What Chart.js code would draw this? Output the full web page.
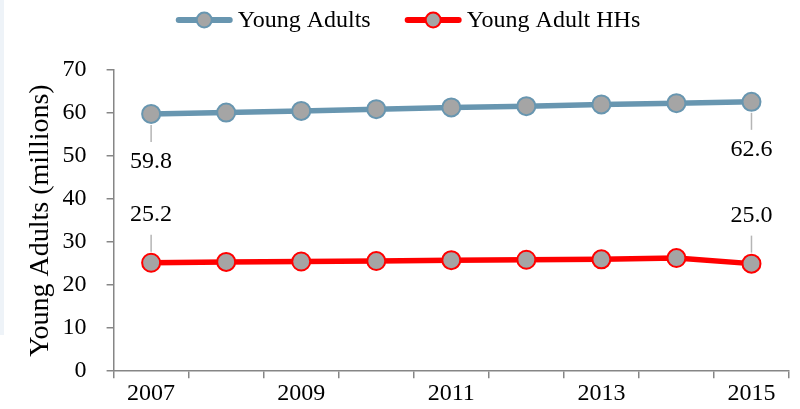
<!DOCTYPE html>
<html>
<head>
<meta charset="utf-8">
<script src="https://cdn.jsdelivr.net/npm/chart.js@4.4.1/dist/chart.umd.min.js"></script>
<style>
  html, body { margin: 0; padding: 0; background: #fff; }
  #wrap { position: relative; width: 800px; height: 409px; }
  #edge { position: absolute; left: 0; top: 0; width: 4px; height: 335px; background: #eef3f8; }
  canvas { position: absolute; left: 0; top: 0; }
</style>
</head>
<body>
<div id="wrap">
  <div id="edge"></div>
  <canvas id="chart" width="800" height="409"></canvas>
</div>
<script>
// Young adults and young-adult-headed households, millions
const years = ['2007', '2008', '2009', '2010', '2011', '2012', '2013', '2014', '2015'];
const youngAdults = [59.8, 60.1, 60.5, 60.9, 61.3, 61.6, 62.0, 62.3, 62.6];
const youngAdultHHs = [25.2, 25.4, 25.5, 25.6, 25.8, 25.9, 26.0, 26.3, 25.0];
const yTicks = [0, 10, 20, 30, 40, 50, 60, 70];

const FONT = '"Liberation Serif", "DejaVu Serif", serif';
const AXIS = '#868686';
const BLUE = '#6896b0';
const RED = '#ff0000';
const MARKER = '#a5a5a5';

// Values for the first and last point, with a short grey leader line
const endLabels = {
  id: 'endLabels',
  afterDatasetsDraw(chart) {
    const ctx = chart.ctx;
    chart.data.datasets.forEach((ds, di) => {
      const meta = chart.getDatasetMeta(di);
      const dir = ds.labelSide === 'below' ? 1 : -1;
      [0, ds.data.length - 1].forEach((i) => {
        const pt = meta.data[i];
        ctx.save();
        ctx.strokeStyle = '#b5b5b5';
        ctx.lineWidth = 1.5;
        ctx.beginPath();
        ctx.moveTo(pt.x, pt.y + dir * 11);
        ctx.lineTo(pt.x, pt.y + dir * 28);
        ctx.stroke();
        ctx.font = '24px ' + FONT;
        ctx.fillStyle = '#000';
        ctx.textAlign = 'center';
        ctx.textBaseline = 'middle';
        ctx.fillText(ds.data[i].toFixed(1), pt.x, pt.y + dir * 48);
        ctx.restore();
      });
    });
  }
};

// Legend with a line-and-marker sample for each series
const lineLegend = {
  id: 'lineLegend',
  afterDraw(chart, args, opts) {
    const ctx = chart.ctx;
    ctx.save();
    ctx.font = opts.fontSize + 'px ' + FONT;
    const items = chart.data.datasets.map((ds) => ({
      ds, w: opts.sample + opts.gap + ctx.measureText(ds.label).width
    }));
    const total = items.reduce((s, it) => s + it.w, 0) + opts.spacing * (items.length - 1);
    let x = opts.center - total / 2;
    const y = opts.y;
    items.forEach((it) => {
      const ds = it.ds;
      ctx.strokeStyle = ds.borderColor;
      ctx.lineWidth = 6;
      ctx.lineCap = 'round';
      ctx.beginPath();
      ctx.moveTo(x + 3, y);
      ctx.lineTo(x + opts.sample - 3, y);
      ctx.stroke();
      ctx.beginPath();
      ctx.arc(x + opts.sample / 2, y, 7.5, 0, Math.PI * 2);
      ctx.fillStyle = ds.pointBackgroundColor;
      ctx.fill();
      ctx.lineWidth = 2;
      ctx.strokeStyle = ds.pointBorderColor;
      ctx.stroke();
      ctx.fillStyle = '#000';
      ctx.textAlign = 'left';
      ctx.textBaseline = 'middle';
      ctx.fillText(ds.label, x + opts.sample + opts.gap, y + 1);
      x += it.w + opts.spacing;
    });
    ctx.restore();
  }
};

new Chart(document.getElementById('chart'), {
  type: 'line',
  data: {
    labels: years,
    datasets: [
      {
        label: 'Young Adults',
        data: youngAdults,
        borderColor: BLUE,
        borderWidth: 5.5,
        pointBackgroundColor: MARKER,
        pointBorderColor: BLUE,
        pointBorderWidth: 2,
        pointRadius: 9,
        tension: 0,
        labelSide: 'below'
      },
      {
        label: 'Young Adult HHs',
        data: youngAdultHHs,
        borderColor: RED,
        borderWidth: 5.5,
        pointBackgroundColor: MARKER,
        pointBorderColor: RED,
        pointBorderWidth: 2,
        pointRadius: 9,
        tension: 0,
        labelSide: 'above'
      }
    ]
  },
  options: {
    responsive: false,
    animation: false,
    devicePixelRatio: 1,
    layout: { padding: { top: 70, left: 20, right: 7, bottom: 0 } },
    plugins: {
      legend: { display: false },
      tooltip: { enabled: false },
      lineLegend: { center: 408, y: 20, fontSize: 24, sample: 57, gap: 5, spacing: 34 }
    },
    scales: {
      x: {
        type: 'category',
        offset: true,
        grid: { offset: true, drawOnChartArea: false, tickLength: 7, color: AXIS, lineWidth: 1.5 },
        border: { color: AXIS, width: 1.5 },
        ticks: {
          autoSkip: false,
          maxRotation: 0,
          padding: 1,
          color: '#000',
          font: { family: FONT, size: 24 },
          callback: (v, i) => (i % 2 === 0 ? years[i] : '')
        }
      },
      y: {
        min: 0,
        max: 70,
        afterBuildTicks: (scale) => { scale.ticks = yTicks.map((v) => ({ value: v })); },
        grid: { drawOnChartArea: false, tickLength: 7, color: AXIS, lineWidth: 1.5 },
        border: { color: AXIS, width: 1.5 },
        ticks: { padding: 20, color: '#000', font: { family: FONT, size: 24 } },
        title: {
          display: true,
          text: 'Young Adults (millions)',
          color: '#000',
          font: { family: FONT, size: 28 },
          padding: { top: 4, bottom: -15 }
        }
      }
    }
  },
  plugins: [endLabels, lineLegend]
});
</script>
</body>
</html>
